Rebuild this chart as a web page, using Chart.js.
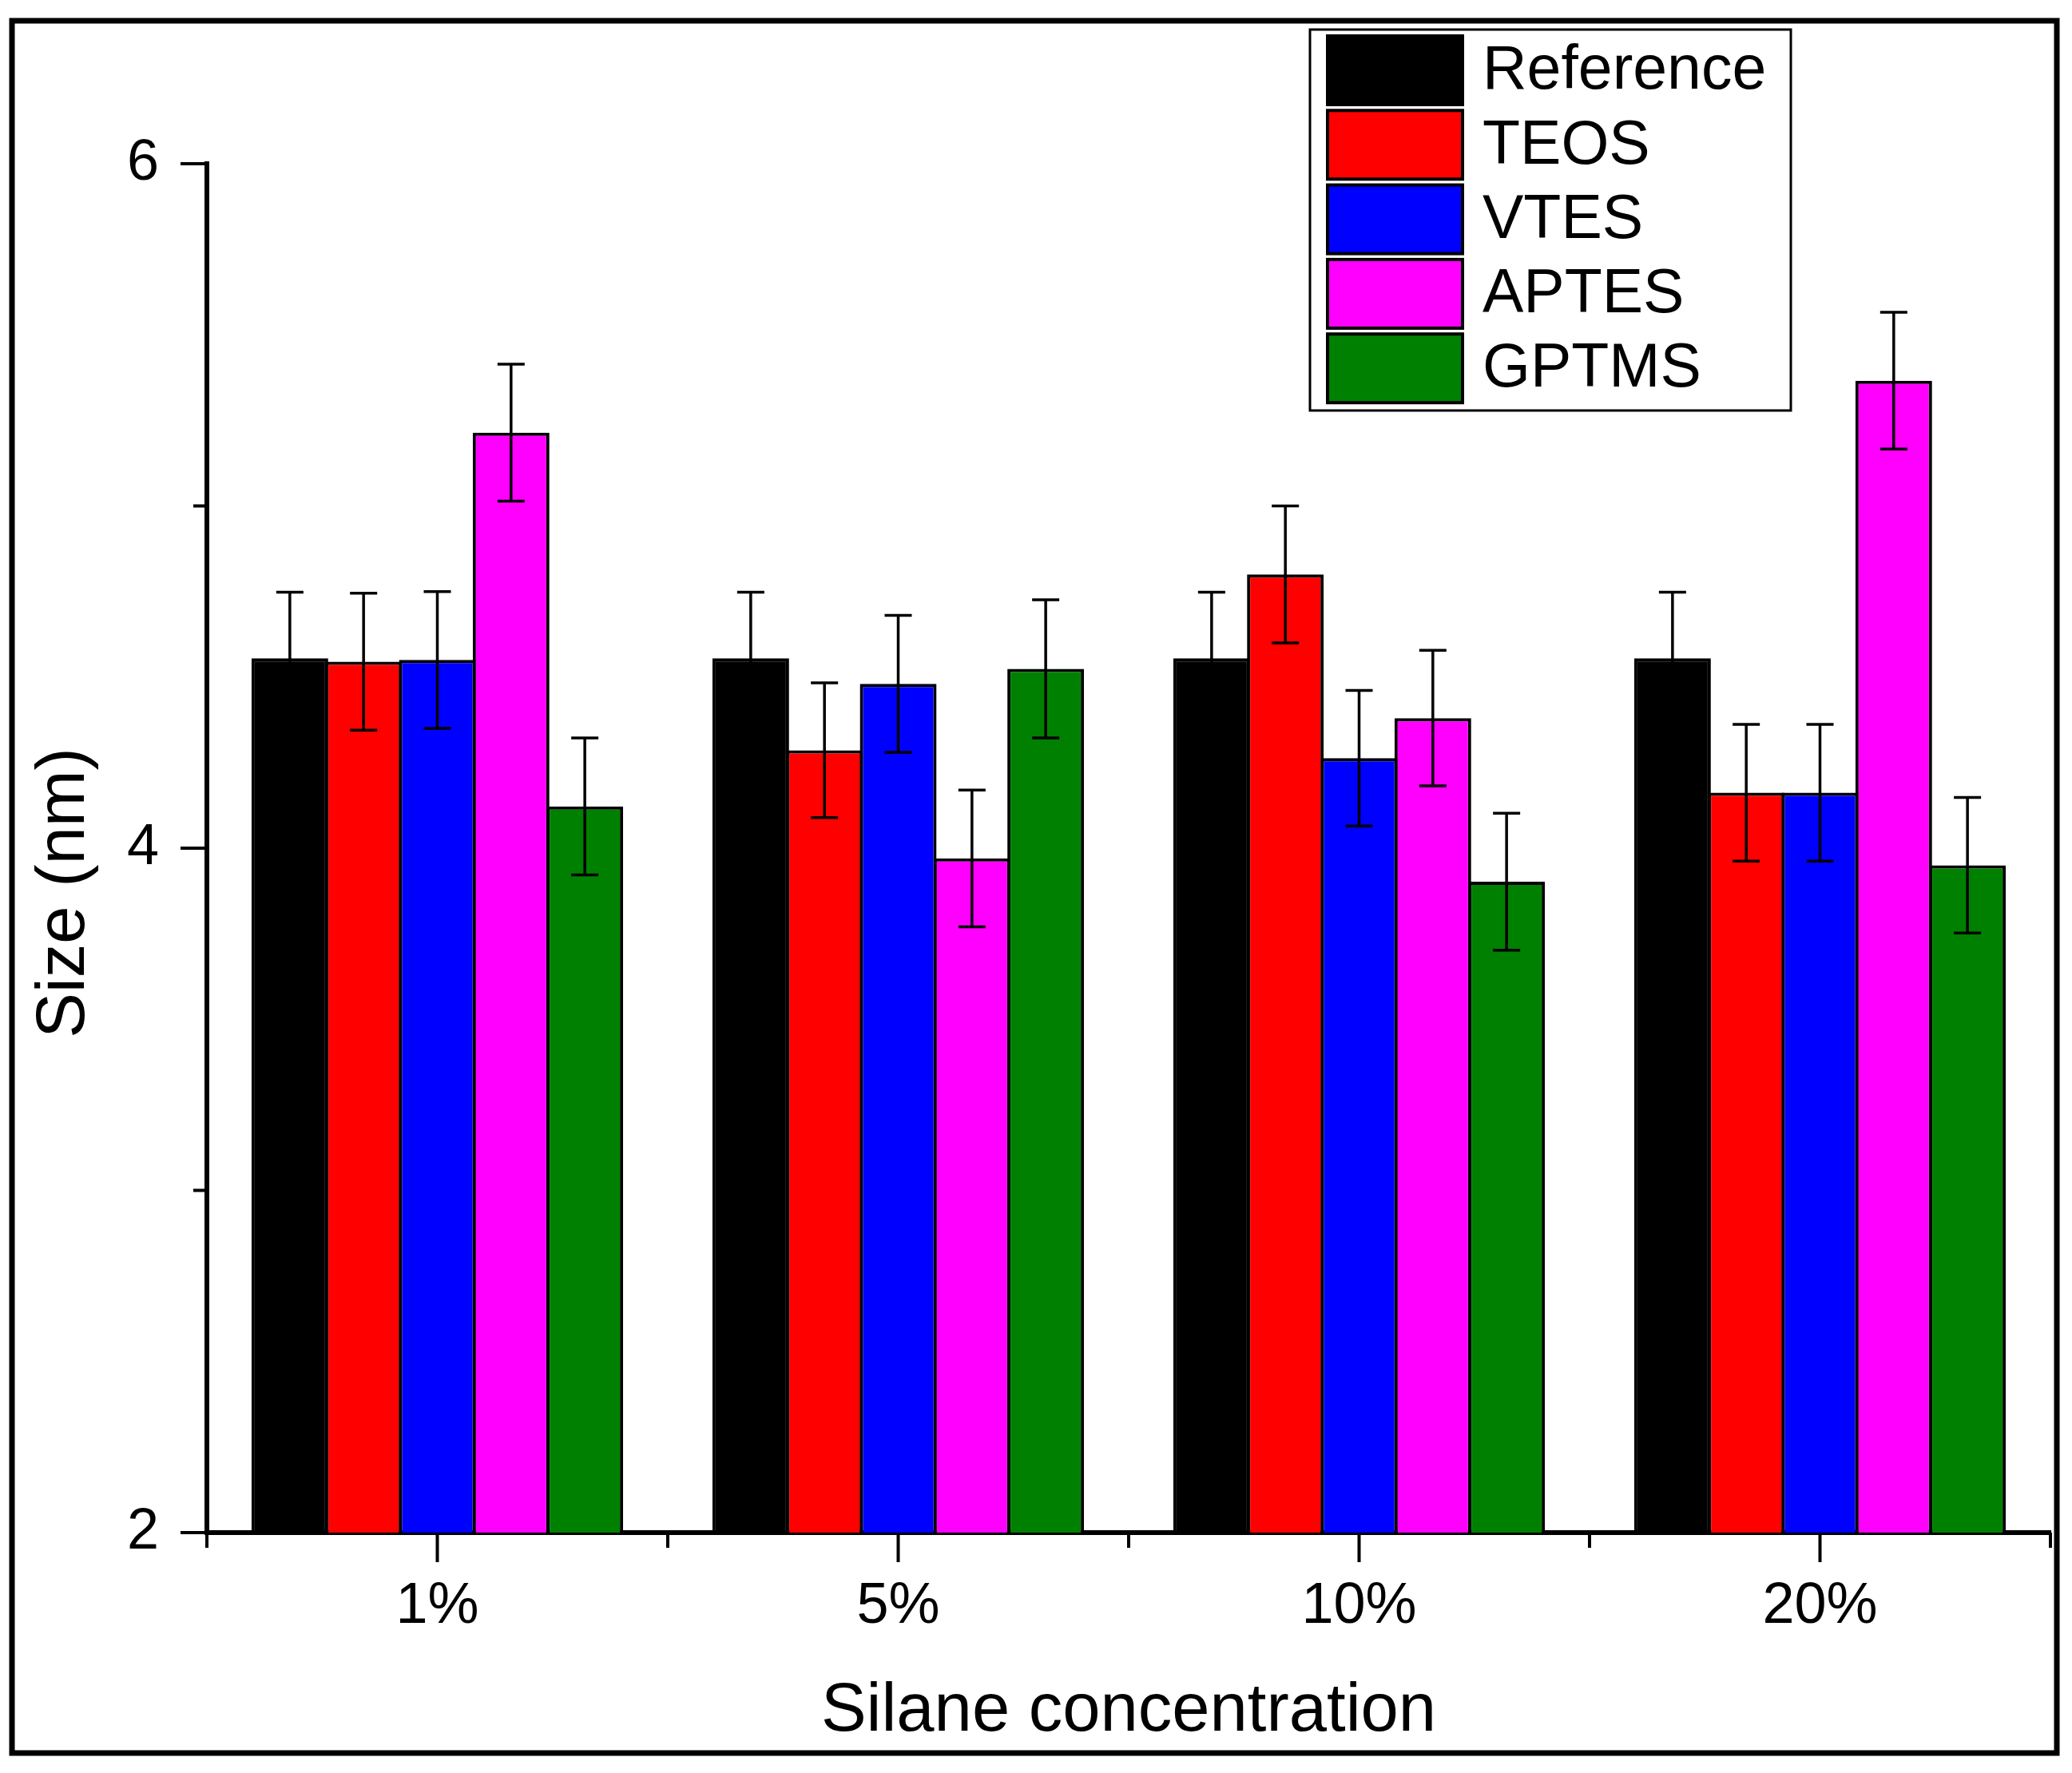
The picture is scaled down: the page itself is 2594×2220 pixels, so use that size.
<!DOCTYPE html>
<html>
<head>
<meta charset="utf-8">
<title>Size vs silane concentration</title>
<script src="https://cdn.jsdelivr.net/npm/chart.js@4.4.1/dist/chart.umd.min.js"></script>
<style>
  body { margin: 0; background: #fff; }
  canvas { display: block; }
</style>
</head>
<body>
<canvas id="myChart" width="2594" height="2220"></canvas>
<script>
// datos
const categorias = ['1%', '5%', '10%', '20%'];
const series = ['Reference', 'TEOS', 'VTES', 'APTES', 'GPTMS'];
const colores = ['#000000', '#ff0000', '#0000ff', '#ff00ff', '#008000'];

const reference = [4.555, 4.555, 4.555, 4.555];
const teos = [4.545, 4.286, 4.800, 4.162];
const vtes = [4.550, 4.480, 4.263, 4.162];
const aptes = [5.214, 3.970, 4.380, 5.366];
const gptms = [4.122, 4.524, 3.902, 3.950];

const referenceErr = [0.193, 0.193, 0.193, 0.193];
const teosErr = [0.2, 0.197, 0.2, 0.2];
const vtesErr = [0.2, 0.2, 0.198, 0.2];
const aptesErr = [0.2, 0.2, 0.198, 0.2];
const gptmsErr = [0.2, 0.202, 0.2, 0.198];

const yTicks = [2, 3, 4, 5, 6];
const yLabels = [2, 4, 6];

const valores = [reference, teos, vtes, aptes, gptms];
const errores = [referenceErr, teosErr, vtesErr, aptesErr, gptmsErr];

const fuente = '"Liberation Sans", Arial, sans-serif';

// barras de error
const errorBars = {
    id: 'errorBars',
    afterDatasetsDraw(chart) {
        const ctx = chart.ctx;
        const y = chart.scales.y;
        ctx.save();
        ctx.strokeStyle = '#000';
        ctx.lineWidth = 3.5;
        chart.data.datasets.forEach((ds, i) => {
            const meta = chart.getDatasetMeta(i);
            meta.data.forEach((bar, j) => {
                const v = ds.data[j];
                const e = errores[i][j];
                const top = y.getPixelForValue(v + e);
                const bot = y.getPixelForValue(v - e);
                ctx.beginPath();
                ctx.moveTo(bar.x, top);
                ctx.lineTo(bar.x, bot);
                ctx.moveTo(bar.x - 17, top);
                ctx.lineTo(bar.x + 17, top);
                ctx.moveTo(bar.x - 17, bot);
                ctx.lineTo(bar.x + 17, bot);
                ctx.stroke();
            });
        });
        ctx.restore();
    }
};

// marco, ticks, titulos y leyenda
const extras = {
    id: 'extras',
    beforeDraw(chart) {
        const ctx = chart.ctx;
        ctx.save();
        ctx.fillStyle = '#fff';
        ctx.fillRect(0, 0, chart.width, chart.height);
        ctx.restore();
    },
    afterDraw(chart) {
        const ctx = chart.ctx;
        const area = chart.chartArea;
        const x = chart.scales.x;
        const y = chart.scales.y;
        ctx.save();

        ctx.strokeStyle = '#000';
        ctx.lineWidth = 4;
        ctx.beginPath();
        yTicks.forEach(v => {
            const py = y.getPixelForValue(v);
            const largo = yLabels.includes(v) ? 33 : 17;
            ctx.moveTo(area.left, py);
            ctx.lineTo(area.left - largo, py);
        });
        const paso = x.getPixelForValue(1) - x.getPixelForValue(0);
        categorias.forEach((c, i) => {
            const px = x.getPixelForValue(i);
            ctx.moveTo(px, area.bottom);
            ctx.lineTo(px, area.bottom + 37);
        });
        for (let i = 0; i <= categorias.length; i++) {
            const px = x.getPixelForValue(0) - paso / 2 + i * paso;
            ctx.moveTo(px, area.bottom);
            ctx.lineTo(px, area.bottom + 19);
        }
        ctx.stroke();

        // titulos
        ctx.fillStyle = '#000';
        ctx.font = '85px ' + fuente;
        ctx.textAlign = 'center';
        ctx.textBaseline = 'alphabetic';
        ctx.fillText('Silane concentration', (area.left + area.right) / 2, 2167);
        ctx.save();
        ctx.translate(105, 1118);
        ctx.rotate(-Math.PI / 2);
        ctx.fillText('Size (nm)', 0, 0);
        ctx.restore();

        // leyenda
        ctx.lineWidth = 3;
        ctx.strokeRect(1640, 37, 602, 477);
        ctx.font = '77px ' + fuente;
        ctx.textAlign = 'left';
        ctx.textBaseline = 'middle';
        chart.data.datasets.forEach((ds, i) => {
            const cy = 88 + i * 93.3;
            ctx.fillStyle = ds.backgroundColor;
            ctx.fillRect(1662, cy - 43, 169, 86);
            ctx.lineWidth = 4;
            ctx.strokeRect(1662, cy - 43, 169, 86);
            ctx.fillStyle = '#000';
            ctx.fillText(ds.label, 1856, cy + 2);
        });

        // marco exterior
        ctx.lineWidth = 7;
        ctx.strokeRect(15, 26, 2560, 2169);
        ctx.restore();
    }
};

const datasets = series.map((nombre, i) => ({
    label: nombre,
    data: valores[i],
    backgroundColor: colores[i],
    borderColor: '#000',
    borderWidth: 4,
    barPercentage: 1.04,
    categoryPercentage: 0.8
}));

const ctx = document.querySelector('#myChart').getContext('2d');
const chart = new Chart(ctx, {
    type: 'bar',
    data: { labels: categorias, datasets: datasets },
    options: {
        responsive: false,
        animation: false,
        devicePixelRatio: 1,
        layout: { padding: { top: 205, right: 27, left: 0, bottom: 0 } },
        plugins: {
            legend: { display: false },
            tooltip: { enabled: false }
        },
        scales: {
            x: {
                offset: true,
                grid: { display: false, drawTicks: false, offset: true },
                border: { display: true, width: 6, color: '#000' },
                ticks: {
                    color: '#000',
                    padding: 50,
                    font: { family: fuente, size: 72 }
                },
                afterFit(scale) { scale.height = 301; }
            },
            y: {
                min: 2,
                max: 6,
                beginAtZero: false,
                grid: { display: false, drawTicks: false },
                border: { display: true, width: 6, color: '#000' },
                ticks: {
                    stepSize: 1,
                    color: '#000',
                    padding: 60,
                    font: { family: fuente, size: 72 },
                    callback: (v) => yLabels.includes(v) ? v : ''
                },
                afterFit(scale) { scale.width = 259; }
            }
        }
    },
    plugins: [errorBars, extras]
});
</script>
</body>
</html>
